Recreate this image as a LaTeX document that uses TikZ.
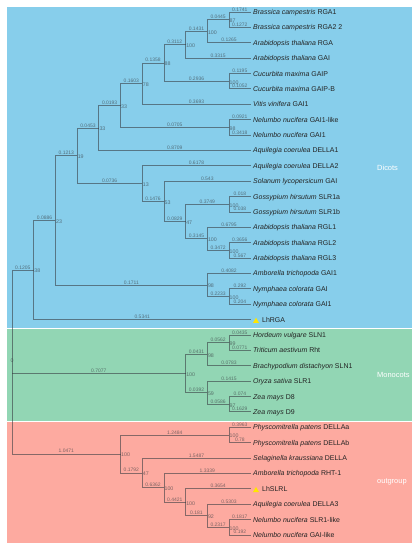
\documentclass[tikz,border=0pt]{standalone}
\usepackage{fontspec}
\setmainfont{Liberation Sans}
\usetikzlibrary{shapes.geometric}
\definecolor{dicotbg}{RGB}{135,206,235}
\definecolor{monobg}{RGB}{146,214,180}
\definecolor{outbg}{RGB}{253,170,160}
\definecolor{treeln}{RGB}{55,60,65}
\definecolor{leaftxt}{RGB}{35,35,35}
\definecolor{markyel}{RGB}{255,230,0}
\begin{document}
\begin{tikzpicture}[x=1bp,y=-1bp,
 edge/.style={draw=treeln, draw opacity=0.6, line width=0.8bp},
 bl/.style={pos=0.75, anchor=south, inner sep=0.5bp, font=\fontsize{5}{5}\selectfont, text=treeln, text opacity=0.65},
 blstraight/.style={pos=0.5, anchor=south, inner sep=0.5bp, font=\fontsize{5}{5}\selectfont, text=treeln, text opacity=0.65},
 bs/.style={anchor=west, inner sep=0.5bp, yshift=-1bp, font=\fontsize{5.3}{5.3}\selectfont, text=treeln, text opacity=0.65},
 leaf/.style={anchor=base west, inner sep=0pt, xshift=2.3bp, yshift=-2.5bp, font=\fontsize{7}{7}\selectfont, text=leaftxt},
 clade/.style={anchor=west, inner sep=0pt, text=white, font=\fontsize{7.5}{8}\selectfont},
 tri/.style={regular polygon, regular polygon sides=3, fill=markyel, minimum size=7bp, inner sep=0pt}]
\useasboundingbox (0,0) rectangle (419,550);
% bands
\fill[dicotbg] (7,7) rectangle (412,328);
\fill[monobg] (7,328) rectangle (412,421);
\fill[outbg] (7,421) rectangle (412,543);
\draw[white, line width=0.8bp] (7,328) -- (412,328);
\draw[white, line width=0.8bp] (7,421) -- (412,421);
\node[clade] (cl-d) at (377,167.5) {Dicots};
\node[clade] (cl-m) at (377,374.5) {Monocots};
\node[clade] (cl-o) at (377,482) {outgroup};
% leaves
\coordinate (bra1) at (250.7,12.00);
\coordinate (bra2) at (250.7,27.38);
\coordinate (atrga) at (250.7,42.76);
\coordinate (atgai) at (250.7,58.14);
\coordinate (cm1) at (250.7,73.52);
\coordinate (cm2) at (250.7,88.90);
\coordinate (vv) at (250.7,104.28);
\coordinate (nn1) at (250.7,119.66);
\coordinate (nn2) at (250.7,135.04);
\coordinate (aq1) at (250.7,150.42);
\coordinate (aq2) at (250.7,165.80);
\coordinate (sl) at (250.7,181.18);
\coordinate (gh1) at (250.7,196.56);
\coordinate (gh2) at (250.7,211.94);
\coordinate (rgl1) at (250.7,227.32);
\coordinate (rgl2) at (250.7,242.70);
\coordinate (rgl3) at (250.7,258.08);
\coordinate (am1) at (250.7,273.46);
\coordinate (ny1) at (250.7,288.84);
\coordinate (ny2) at (250.7,304.22);
\coordinate (lhrga) at (250.7,319.60);
\coordinate (hv) at (250.7,334.98);
\coordinate (ta) at (250.7,350.36);
\coordinate (bd) at (250.7,365.74);
\coordinate (os) at (250.7,381.12);
\coordinate (zm8) at (250.7,396.50);
\coordinate (zm9) at (250.7,411.88);
\coordinate (pp1) at (250.7,427.26);
\coordinate (pp2) at (250.7,442.64);
\coordinate (sk) at (250.7,458.02);
\coordinate (am2) at (250.7,473.40);
\coordinate (lhslrl) at (250.7,488.78);
\coordinate (aq3) at (250.7,504.16);
\coordinate (nn3) at (250.7,519.54);
\coordinate (nn4) at (250.7,534.92);
% leaf labels
\node[leaf] (t-bra1) at (bra1) {\textit{Brassica campestris} RGA1};
\node[leaf] (t-bra2) at (bra2) {\textit{Brassica campestris} RGA2 2};
\node[leaf] (t-atrga) at (atrga) {\textit{Arabidopsis thaliana} RGA};
\node[leaf] (t-atgai) at (atgai) {\textit{Arabidopsis thaliana} GAI};
\node[leaf] (t-cm1) at (cm1) {\textit{Cucurbita maxima} GAIP};
\node[leaf] (t-cm2) at (cm2) {\textit{Cucurbita maxima} GAIP-B};
\node[leaf] (t-vv) at (vv) {\textit{Vitis vinifera} GAI1};
\node[leaf] (t-nn1) at (nn1) {\textit{Nelumbo nucifera} GAI1-like};
\node[leaf] (t-nn2) at (nn2) {\textit{Nelumbo nucifera} GAI1};
\node[leaf] (t-aq1) at (aq1) {\textit{Aquilegia coerulea} DELLA1};
\node[leaf] (t-aq2) at (aq2) {\textit{Aquilegia coerulea} DELLA2};
\node[leaf] (t-sl) at (sl) {\textit{Solanum lycopersicum} GAI};
\node[leaf] (t-gh1) at (gh1) {\textit{Gossypium hirsutum} SLR1a};
\node[leaf] (t-gh2) at (gh2) {\textit{Gossypium hirsutum} SLR1b};
\node[leaf] (t-rgl1) at (rgl1) {\textit{Arabidopsis thaliana} RGL1};
\node[leaf] (t-rgl2) at (rgl2) {\textit{Arabidopsis thaliana} RGL2};
\node[leaf] (t-rgl3) at (rgl3) {\textit{Arabidopsis thaliana} RGL3};
\node[leaf] (t-am1) at (am1) {\textit{Amborella trichopoda} GAI1};
\node[leaf] (t-ny1) at (ny1) {\textit{Nymphaea colorata} GAI};
\node[leaf] (t-ny2) at (ny2) {\textit{Nymphaea colorata} GAI1};
\node[tri] (m-lhrga) at ([xshift=5.3bp,yshift=-1.6bp]lhrga) {};
\node[leaf, xshift=9bp] (t-lhrga) at (lhrga) {LhRGA};
\node[leaf] (t-hv) at (hv) {\textit{Hordeum vulgare} SLN1};
\node[leaf] (t-ta) at (ta) {\textit{Triticum aestivum} Rht};
\node[leaf] (t-bd) at (bd) {\textit{Brachypodium distachyon} SLN1};
\node[leaf] (t-os) at (os) {\textit{Oryza sativa} SLR1};
\node[leaf] (t-zm8) at (zm8) {\textit{Zea mays} D8};
\node[leaf] (t-zm9) at (zm9) {\textit{Zea mays} D9};
\node[leaf] (t-pp1) at (pp1) {\textit{Physcomitrella patens} DELLAa};
\node[leaf] (t-pp2) at (pp2) {\textit{Physcomitrella patens} DELLAb};
\node[leaf] (t-sk) at (sk) {\textit{Selaginella kraussiana} DELLA};
\node[leaf] (t-am2) at (am2) {\textit{Amborella trichopoda} RHT-1};
\node[tri] (m-lhslrl) at ([xshift=5.3bp,yshift=-1.6bp]lhslrl) {};
\node[leaf, xshift=9bp] (t-lhslrl) at (lhslrl) {LhSLRL};
\node[leaf] (t-aq3) at (aq3) {\textit{Aquilegia coerulea} DELLA3};
\node[leaf] (t-nn3) at (nn3) {\textit{Nelumbo nucifera} SLR1-like};
\node[leaf] (t-nn4) at (nn4) {\textit{Nelumbo nucifera} GAI-like};
% internal nodes
\coordinate (root) at (12,361.97);
\coordinate (D) at (33.7,269.99);
\coordinate (D1) at (55.4,220.38);
\coordinate (D2) at (77.1,155.77);
\coordinate (D3) at (98.8,127.95);
\coordinate (D4) at (120.5,105.48);
\coordinate (D5) at (142.2,83.61);
\coordinate (D6) at (163.9,62.95);
\coordinate (D7) at (185.6,44.68);
\coordinate (D8) at (207.3,31.23);
\coordinate (D9) at (229.0,19.69);
\coordinate (D10) at (229.0,81.21);
\coordinate (N1) at (229.0,127.35);
\coordinate (D11) at (142.2,183.58);
\coordinate (D12) at (163.9,201.37);
\coordinate (D13) at (185.6,221.55);
\coordinate (G) at (229.0,204.25);
\coordinate (D14) at (207.3,238.86);
\coordinate (D15) at (229.0,250.39);
\coordinate (D16) at (207.3,285.00);
\coordinate (D17) at (229.0,296.53);
\coordinate (M) at (185.6,373.43);
\coordinate (M1) at (207.3,354.20);
\coordinate (M2) at (229.0,342.67);
\coordinate (M3) at (207.3,392.66);
\coordinate (M4) at (229.0,404.19);
\coordinate (O) at (120.5,453.94);
\coordinate (P) at (229.0,434.95);
\coordinate (O1) at (142.2,472.92);
\coordinate (O2) at (163.9,487.82);
\coordinate (O3) at (185.6,502.24);
\coordinate (O4) at (207.3,515.70);
\coordinate (O5) at (229.0,527.23);
% edges
\draw[edge] (root) |- node[bl]{0.1205} (D);
\draw[edge] (root |- M) -- node[blstraight]{0.7077} (M);
\draw[edge] (root) |- node[bl]{1.0471} (O);
\draw[edge] (D) |- node[bl]{0.0886} (D1);
\draw[edge] (D) |- node[bl]{0.5341} (lhrga);
\draw[edge] (D1) |- node[bl]{0.1213} (D2);
\draw[edge] (D1) |- node[bl]{0.1711} (D16);
\draw[edge] (D2) |- node[bl]{0.0453} (D3);
\draw[edge] (D2) |- node[bl]{0.0736} (D11);
\draw[edge] (D3) |- node[bl]{0.0193} (D4);
\draw[edge] (D3) |- node[bl]{0.8709} (aq1);
\draw[edge] (D4) |- node[bl]{0.1603} (D5);
\draw[edge] (D4) |- node[bl]{0.0705} (N1);
\draw[edge] (D5) |- node[bl]{0.1358} (D6);
\draw[edge] (D5) |- node[bl]{0.3693} (vv);
\draw[edge] (D6) |- node[bl]{0.3112} (D7);
\draw[edge] (D6) |- node[bl]{0.2936} (D10);
\draw[edge] (D7) |- node[bl]{0.1431} (D8);
\draw[edge] (D7) |- node[bl]{0.3315} (atgai);
\draw[edge] (D8) |- node[bl]{0.0445} (D9);
\draw[edge] (D8) |- node[bl]{0.1265} (atrga);
\draw[edge] (D9) |- node[bl]{0.1741} (bra1);
\draw[edge] (D9) |- node[bl]{0.1272} (bra2);
\draw[edge] (D10) |- node[bl]{0.1195} (cm1);
\draw[edge] (D10) |- node[bl]{0.1052} (cm2);
\draw[edge] (N1) |- node[bl]{0.0921} (nn1);
\draw[edge] (N1) |- node[bl]{0.3418} (nn2);
\draw[edge] (D11) |- node[bl]{0.6178} (aq2);
\draw[edge] (D11) |- node[bl]{0.1476} (D12);
\draw[edge] (D12) |- node[bl]{0.543} (sl);
\draw[edge] (D12) |- node[bl]{0.0829} (D13);
\draw[edge] (D13) |- node[bl]{0.3749} (G);
\draw[edge] (D13) |- node[bl]{0.3145} (D14);
\draw[edge] (G) |- node[bl]{0.018} (gh1);
\draw[edge] (G) |- node[bl]{0.038} (gh2);
\draw[edge] (D14) |- node[bl]{0.6795} (rgl1);
\draw[edge] (D14) |- node[bl]{0.3472} (D15);
\draw[edge] (D15) |- node[bl]{0.3656} (rgl2);
\draw[edge] (D15) |- node[bl]{0.567} (rgl3);
\draw[edge] (D16) |- node[bl]{0.4082} (am1);
\draw[edge] (D16) |- node[bl]{0.2233} (D17);
\draw[edge] (D17) |- node[bl]{0.292} (ny1);
\draw[edge] (D17) |- node[bl]{0.204} (ny2);
\draw[edge] (M) |- node[bl]{0.0431} (M1);
\draw[edge] (M) |- node[bl]{0.0392} (M3);
\draw[edge] (M1) |- node[bl]{0.0562} (M2);
\draw[edge] (M1) |- node[bl]{0.0783} (bd);
\draw[edge] (M2) |- node[bl]{0.0435} (hv);
\draw[edge] (M2) |- node[bl]{0.0771} (ta);
\draw[edge] (M3) |- node[bl]{0.1415} (os);
\draw[edge] (M3) |- node[bl]{0.0586} (M4);
\draw[edge] (M4) |- node[bl]{0.074} (zm8);
\draw[edge] (M4) |- node[bl]{0.1629} (zm9);
\draw[edge] (O) |- node[bl]{1.2484} (P);
\draw[edge] (O) |- node[bl]{0.1792} (O1);
\draw[edge] (P) |- node[bl]{0.3963} (pp1);
\draw[edge] (P) |- node[bl]{0.78} (pp2);
\draw[edge] (O1) |- node[bl]{1.5487} (sk);
\draw[edge] (O1) |- node[bl]{0.6362} (O2);
\draw[edge] (O2) |- node[bl]{1.3339} (am2);
\draw[edge] (O2) |- node[bl]{0.4421} (O3);
\draw[edge] (O3) |- node[bl]{0.3654} (lhslrl);
\draw[edge] (O3) |- node[bl]{0.181} (O4);
\draw[edge] (O4) |- node[bl]{0.5303} (aq3);
\draw[edge] (O4) |- node[bl]{0.2317} (O5);
\draw[edge] (O5) |- node[bl]{0.1817} (nn3);
\draw[edge] (O5) |- node[bl]{0.192} (nn4);
% bootstrap values
\node[bs, anchor=center, yshift=2bp] (b-root) at (root) {0};
\node[bs] (b-D) at (D) {38};
\node[bs] (b-D1) at (D1) {23};
\node[bs] (b-D2) at (D2) {19};
\node[bs] (b-D3) at (D3) {33};
\node[bs] (b-D4) at (D4) {33};
\node[bs] (b-D5) at (D5) {78};
\node[bs] (b-D6) at (D6) {88};
\node[bs] (b-D7) at (D7) {100};
\node[bs] (b-D8) at (D8) {100};
\node[bs] (b-D9) at (D9) {87};
\node[bs] (b-D10) at (D10) {100};
\node[bs] (b-N1) at (N1) {98};
\node[bs] (b-D11) at (D11) {13};
\node[bs] (b-D12) at (D12) {53};
\node[bs] (b-D13) at (D13) {47};
\node[bs] (b-G) at (G) {100};
\node[bs] (b-D14) at (D14) {100};
\node[bs] (b-D15) at (D15) {100};
\node[bs] (b-D16) at (D16) {98};
\node[bs] (b-D17) at (D17) {100};
\node[bs] (b-M) at (M) {100};
\node[bs] (b-M1) at (M1) {98};
\node[bs] (b-M2) at (M2) {99};
\node[bs] (b-M3) at (M3) {59};
\node[bs] (b-M4) at (M4) {97};
\node[bs] (b-O) at (O) {100};
\node[bs] (b-P) at (P) {100};
\node[bs] (b-O1) at (O1) {47};
\node[bs] (b-O2) at (O2) {100};
\node[bs] (b-O3) at (O3) {100};
\node[bs] (b-O4) at (O4) {92};
\node[bs] (b-O5) at (O5) {100};
\end{tikzpicture}
\end{document}
